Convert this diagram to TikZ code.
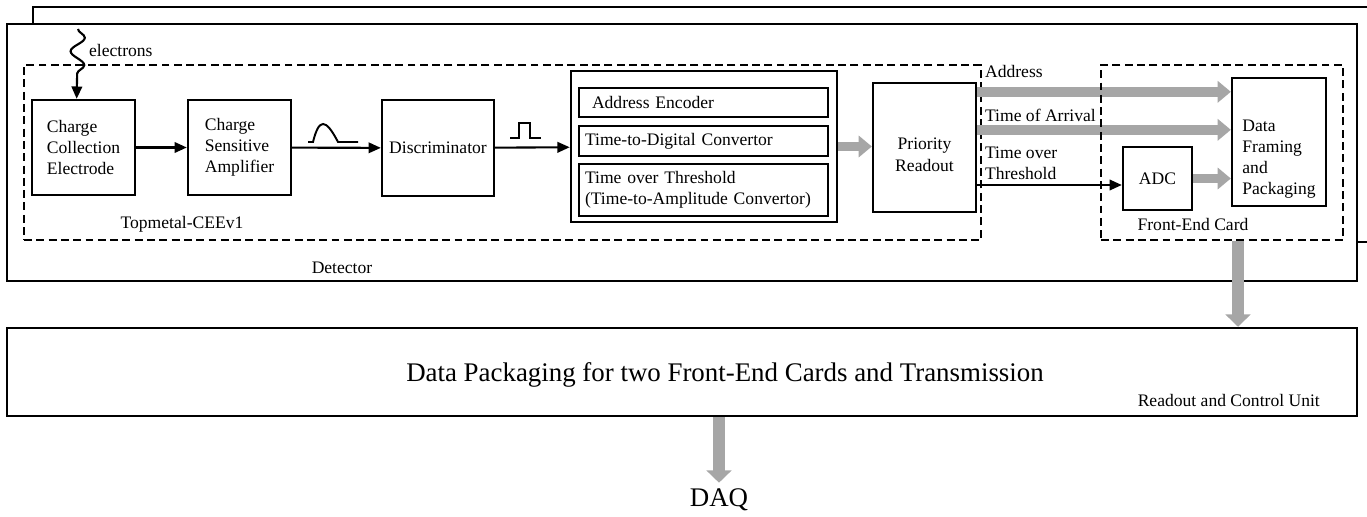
\documentclass[tikz,border=0pt]{standalone}
\usepackage{fontspec}
\setmainfont{Liberation Serif}
\usetikzlibrary{arrows.meta, positioning, decorations.pathmorphing}
\definecolor{busgray}{RGB}{166,166,166}

\begin{document}
\begin{tikzpicture}[
  font=\fontsize{10}{12}\selectfont,
  box/.style={draw, line width=1.35pt, fill=white, inner sep=2pt, align=left},
  frame/.style={draw, line width=1.4pt, fill=white, inner sep=0pt},
  group/.style={draw, line width=1.3pt, dash pattern=on 4.5pt off 2.5pt, inner sep=0pt},
  unit/.style={draw, line width=1.5pt, inner xsep=0.12cm, inner ysep=0pt,
               text width=4.74cm, align=left, fill=white},
  note/.style={inner sep=1pt, anchor=west, align=left},
  sig/.style={-{Triangle[length=7pt, width=6pt]}, line width=1.2pt},
  bus/.style={-{Triangle[length=7.5pt, width=12pt]}, line width=5.5pt, draw=busgray},
  vbus/.style={-{Triangle[length=7pt, width=14pt]}, line width=6.5pt, draw=busgray}
]
\useasboundingbox (0,0) rectangle (27.34,-10.34);
\clip (0,0) rectangle (27.34,-10.34);

%% Detector (two stacked frames)
\node[frame, minimum width=27.34cm, minimum height=4.70cm] (detback) at (14.33,-2.49) {};
\node[frame, minimum width=27cm, minimum height=5.14cm] (det) at (13.64,-3.05) {};
\node (detlbl) at (6.84,-5.36) {Detector};

%% Topmetal-CEEv1 chip
\node[group, minimum width=19.14cm, minimum height=3.5cm] (chip) at (10.05,-3.05) {};
\node (chiplbl) at (3.64,-4.48) {Topmetal-CEEv1};

\node[box, minimum width=2.06cm, minimum height=1.90cm] (cce)  at (1.67,-2.95) {Charge\\Collection\\Electrode};
\node[box, minimum width=2.06cm, minimum height=1.90cm] (csa)  at (4.79,-2.95) {Charge\\Sensitive\\Amplifier};
\node[box, minimum width=2.24cm, minimum height=1.92cm] (disc) at (8.76,-2.96) {Discriminator};

\node[box, line width=1.5pt, minimum width=5.32cm, minimum height=3.02cm] (enc) at (14.08,-2.93) {};
\node[unit, minimum height=0.58cm] (aenc) at (14.07,-2.05) {\hspace*{0.14cm}Address Encoder};
\node[unit, minimum height=0.60cm] (tdc)  at (14.07,-2.82) {Time-to-Digital Convertor};
\node[unit, minimum height=1.04cm] (tot)  at (14.07,-3.80) {Time over Threshold\\(Time-to-Amplitude Convertor)};

\node[box, align=center, minimum width=2.06cm, minimum height=2.58cm] (prio) at (18.49,-2.95)
  {\mbox{}\\[0.1cm]Priority\\Readout};

%% incoming electrons
\coordinate (esrc) at (1.56,-0.58);
\node[note] (elbl) at (1.74,-1.0) {electrons};
\draw[sig, decorate, decoration={snake, amplitude=0.14cm, segment length=0.55cm, post length=0.4cm}]
  (esrc) -- (cce.98);

\draw[sig] (cce) -- (csa);
\draw[sig] (csa) -- (disc);
\draw[sig] (disc) -- (enc);
\draw[bus] (enc.east) -- (enc.east -| prio.west);

% pulse shapes on the wires
\draw[line width=1.1pt] (6.16,-2.84) -- (6.26,-2.84)
  .. controls (6.38,-2.36) and (6.51,-2.36) .. (6.76,-2.84) -- (7.16,-2.84);
\draw[line width=1.1pt] (10.20,-2.76) -- (10.38,-2.76) -- (10.38,-2.46)
  -- (10.60,-2.46) -- (10.60,-2.76) -- (10.82,-2.76);

%% Front-End Card
\node[box, align=center, minimum width=1.38cm, minimum height=1.26cm] (adc) at (23.15,-3.57) {ADC};
\node[box, minimum width=1.88cm, minimum height=2.56cm] (dfp) at (25.58,-2.84)
  {\mbox{}\\[0.5cm]Data\\Framing\\and\\Packaging};

\draw[bus] ([yshift=-0.2cm]prio.north east) -- ([yshift=-0.2cm]prio.north east -| dfp.west);
\draw[bus] ([yshift=-0.96cm]prio.north east) -- ([yshift=-0.96cm]prio.north east -| dfp.west);
\draw[sig] ([yshift=-0.13cm]adc.west -| prio.east) -- ([yshift=-0.13cm]adc.west);
\draw[bus] (adc.east) -- (adc.east -| dfp.west);

\node[note] (addr) at (19.66,-1.42) {Address};
\node[note] (toa)  at (19.66,-2.30) {Time of Arrival};
\node[note] (totl) at (19.66,-3.27) {Time over\\Threshold};

\node[group, minimum width=4.84cm, minimum height=3.5cm] (fec) at (24.44,-3.05) {};
\node (feclbl) at (23.86,-4.48) {Front-End Card};

%% Readout and Control Unit
\node[frame, minimum width=27cm, minimum height=1.76cm] (rcu) at (13.64,-7.44) {};
\node[font=\fontsize{15.3}{18}\selectfont] (rcutxt) at (14.5,-7.5)
  {Data Packaging for two Front-End Cards and Transmission};
\node[anchor=east] (rculbl) at (26.52,-8.0) {Readout and Control Unit};
\node[font=\fontsize{15.3}{18}\selectfont] (daq) at (14.38,-10.0) {DAQ};

\draw[vbus] ([xshift=0.32cm]fec.south) -- ([xshift=0.32cm]fec.south |- rcu.north);
\draw[vbus] (daq.north |- rcu.south) -- (daq.north);

\end{tikzpicture}
\end{document}
